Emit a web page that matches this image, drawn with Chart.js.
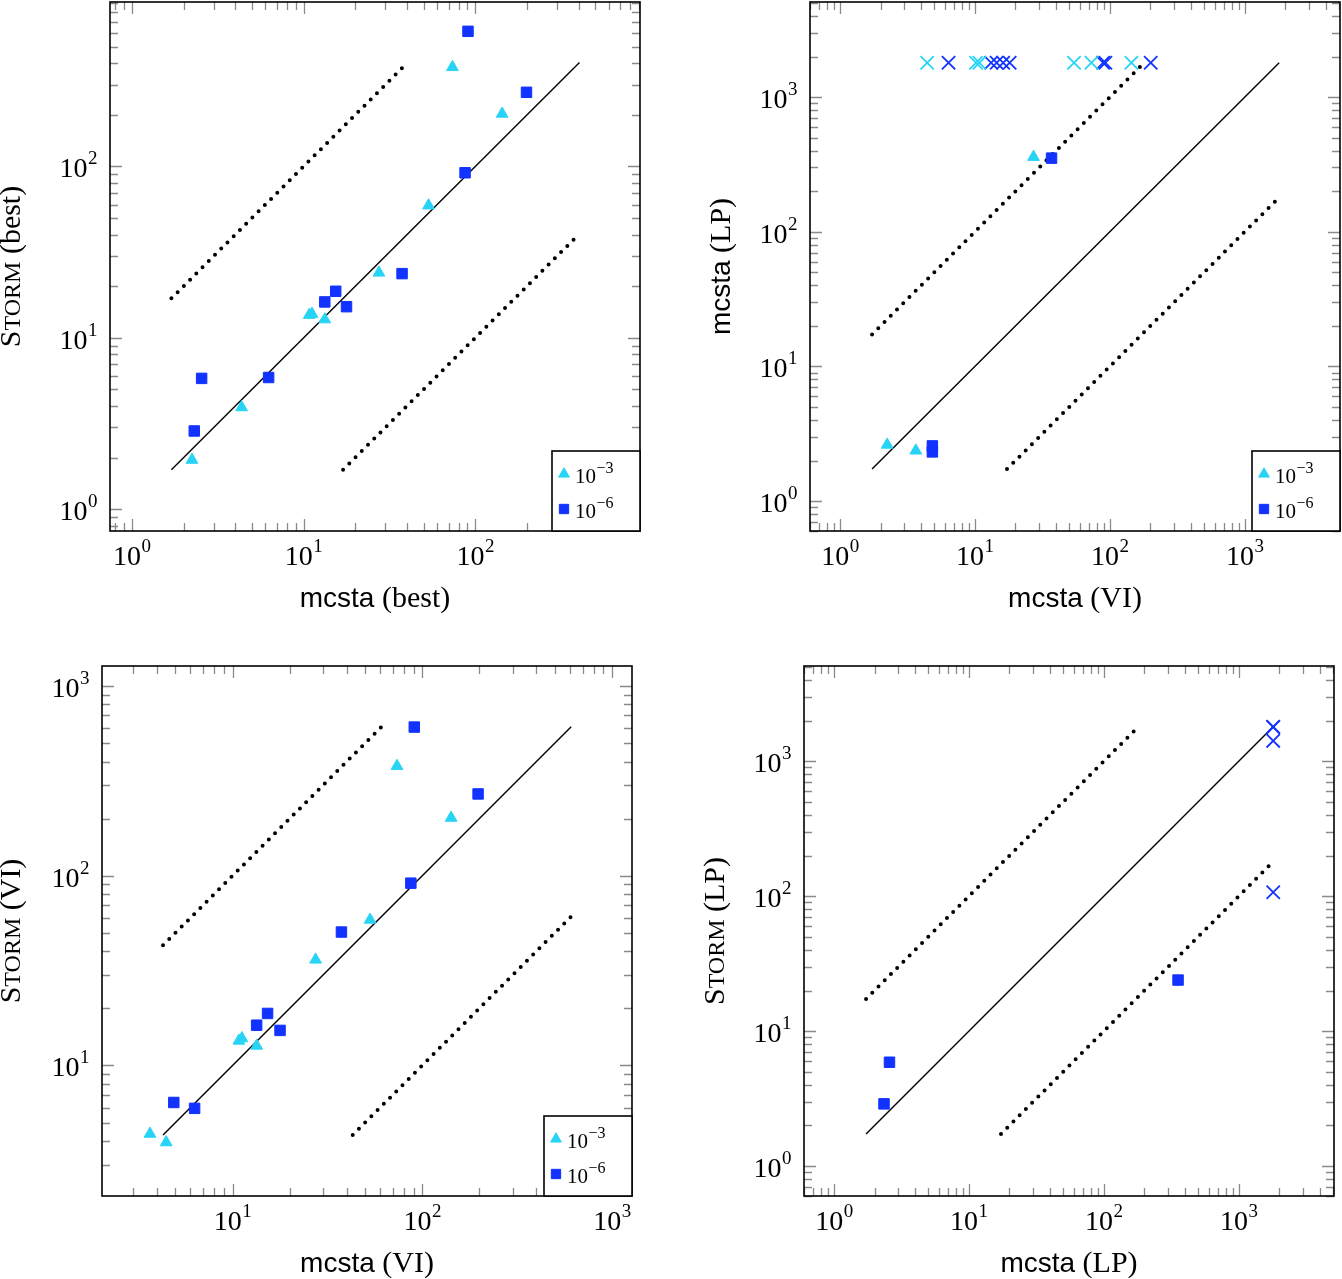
<!DOCTYPE html>
<html>
<head>
<meta charset="utf-8">
<script src="https://cdn.jsdelivr.net/npm/chart.js@4.4.1/dist/chart.umd.min.js"></script>
<style>
  html, body { margin: 0; padding: 0; background: #fff; }
  #wrap { position: relative; width: 1342px; height: 1279px; }
  #wrap canvas { position: absolute; left: 0; top: 0; }
</style>
</head>
<body>
<div id="wrap">
  <canvas id="c1" width="1342" height="1279"></canvas>
  <canvas id="c2" width="1342" height="1279"></canvas>
  <canvas id="c3" width="1342" height="1279"></canvas>
  <canvas id="c4" width="1342" height="1279"></canvas>
</div>
<script>
// ---- data ----
// top left: mcsta (best) vs Storm (best)
const bestTriX = [2.24, 4.36, 10.8, 11.2, 13.3, 27.5, 53.5, 73.7, 143.5];
const bestTriY = [1.94, 3.93, 13.6, 13.8, 12.8, 24.0, 59.2, 380, 203];
const bestSqX = [2.31, 2.55, 6.26, 13.3, 15.4, 17.8, 37.5, 87.3, 90.8, 199];
const bestSqY = [2.86, 5.80, 5.87, 16.2, 18.7, 15.2, 23.7, 91.9, 615, 271];

// top right: mcsta (VI) vs mcsta (LP), timeouts drawn as crosses
const lpTriX = [2.24, 3.65, 27.2];
const lpTriY = [2.62, 2.37, 359];
const lpSqX = [4.84, 4.84, 37.0];
const lpSqY = [2.57, 2.32, 352];
const lpTimeoutTriX = [4.43, 10.2, 10.8, 54.3, 73.1, 144.6];
const lpTimeoutSqX = [6.38, 13.2, 14.5, 16.2, 18.1, 89.2, 92.7, 201];
const lpTimeoutY = 1800;

// bottom left: mcsta (VI) vs Storm (VI)
const viTriX = [3.67, 4.47, 10.8, 11.2, 13.4, 27.4, 53.1, 73.6, 142];
const viTriY = [4.36, 3.93, 13.5, 13.9, 12.7, 36.1, 58.6, 379, 202];
const viSqX = [4.9, 6.31, 13.4, 15.3, 17.8, 37.5, 87.1, 90.8, 197];
const viSqY = [6.38, 5.94, 16.3, 18.8, 15.3, 50.5, 91.4, 608, 270];

// bottom right: mcsta (LP) vs Storm (LP)
const lpsSqX = [2.35, 2.58, 355];
const lpsSqY = [2.89, 5.88, 23.9];
const lpsTimeoutX = [1800, 1800, 1800, 1800];
const lpsTimeoutY = [1800, 1790, 1416, 107];

// reference lines y = x, y = 10x, y = x/10 (ends as drawn: [x0, y0, x1, y1])
const bestRef = [[1.7, 1.7, 405, 405], [1.7, 17, 40.5, 405], [17, 1.7, 405, 40.5]];
const lpRef = [[1.73, 1.73, 1800, 1800], [1.73, 17.3, 180, 1800], [17.3, 1.73, 1800, 180]];
const viRef = [[4.3, 4.3, 610, 610], [4.3, 43, 61, 610], [43, 4.3, 610, 61]];

// tick labels (decades) per panel
const ticksBest = [1, 10, 100];
const ticksLp = [1, 10, 100, 1000];
const ticksVi = [10, 100, 1000];

// ---- styling ----
const CYAN = 'rgb(40, 212, 246)';
const BLUE = 'rgb(18, 50, 255)';
const SERIF = '"Liberation Serif", "DejaVu Serif", serif';
const SANS = '"Liberation Sans", "DejaVu Sans", sans-serif';

function pts(xs, ys) {
  return xs.map((x, i) => ({ x: x, y: Array.isArray(ys) ? ys[i] : ys }));
}

function refSets(ref) {
  return ref.map((r, i) => ({
    data: [{ x: r[0], y: r[1] }, { x: r[2], y: r[3] }],
    showLine: true,
    pointRadius: 0,
    borderColor: '#000',
    borderWidth: i === 0 ? 1.4 : 4,
    borderDash: i === 0 ? [] : [0, 8.8],
    borderCapStyle: i === 0 ? 'butt' : 'round',
    order: 5
  }));
}

function triSet(data) {
  return { data: data, pointStyle: 'triangle', pointRadius: 6.8, borderWidth: 1,
    backgroundColor: CYAN, borderColor: CYAN, order: 2 };
}
function sqSet(data) {
  return { data: data, pointStyle: 'rect', pointRadius: 7.4, borderWidth: 1,
    backgroundColor: BLUE, borderColor: BLUE, order: 1 };
}
function crossSet(data, color) {
  return { data: data, pointStyle: 'crossRot', pointRadius: 9.4, borderWidth: 1.8,
    backgroundColor: color, borderColor: color, order: 1 };
}

function logTicks(min, max) {
  const out = [];
  for (let k = Math.floor(Math.log10(min)) - 1; k <= Math.ceil(Math.log10(max)); k++) {
    for (let m = 1; m <= 9; m++) {
      const v = m * Math.pow(10, k);
      if (v >= min * 0.999 && v <= max * 1.001) out.push({ v: v, major: m === 1 });
    }
  }
  return out;
}

// "10" with a raised exponent
function powWidth(ctx, exp, big, small) {
  ctx.font = big + 'px ' + SERIF;
  const w1 = ctx.measureText('10').width;
  ctx.font = small + 'px ' + SERIF;
  return w1 + ctx.measureText(exp).width;
}
function drawPow(ctx, exp, left, base, big, small, rise) {
  ctx.textAlign = 'left';
  ctx.textBaseline = 'alphabetic';
  ctx.font = big + 'px ' + SERIF;
  ctx.fillText('10', left, base);
  const w1 = ctx.measureText('10').width;
  ctx.font = small + 'px ' + SERIF;
  ctx.fillText(exp, left + w1 + 0.5, base - rise);
}

function drawSegments(ctx, segs) {
  let total = 0;
  segs.forEach(s => { ctx.font = s[1]; total += ctx.measureText(s[0]).width; });
  let x = -total / 2;
  ctx.textAlign = 'left';
  ctx.textBaseline = 'alphabetic';
  segs.forEach(s => { ctx.font = s[1]; ctx.fillText(s[0], x, 0); x += ctx.measureText(s[0]).width; });
}

const frame = {
  id: 'frame',
  beforeDatasetsDraw(chart, args, o) {
    const { ctx, chartArea: a, scales: { x, y } } = chart;
    ctx.save();
    ctx.strokeStyle = '#8a8a8a';
    ctx.lineWidth = 1.3;
    ctx.beginPath();
    logTicks(x.min, x.max).forEach(t => {
      const p = Math.round(x.getPixelForValue(t.v)) + 0.5;
      const L = t.major ? 12 : 8;
      ctx.moveTo(p, a.bottom); ctx.lineTo(p, a.bottom - L);
      ctx.moveTo(p, a.top); ctx.lineTo(p, a.top + L);
    });
    logTicks(y.min, y.max).forEach(t => {
      const p = Math.round(y.getPixelForValue(t.v)) + 0.5;
      const L = t.major ? 12 : 8;
      ctx.moveTo(a.left, p); ctx.lineTo(a.left + L, p);
      ctx.moveTo(a.right, p); ctx.lineTo(a.right - L, p);
    });
    ctx.stroke();
    ctx.restore();
  },
  afterDraw(chart, args, o) {
    const { ctx, chartArea: a, scales: { x, y } } = chart;
    ctx.save();
    ctx.strokeStyle = '#000';
    ctx.lineWidth = 1.6;
    ctx.strokeRect(a.left, a.top, a.right - a.left, a.bottom - a.top);

    ctx.fillStyle = '#000';
    o.ticks.forEach(v => {
      const exp = String(Math.round(Math.log10(v)));
      const w = powWidth(ctx, exp, 28, 19);
      const px = x.getPixelForValue(v);
      drawPow(ctx, exp, px - w / 2, a.bottom + 34, 28, 19, 13);
      const py = y.getPixelForValue(v);
      drawPow(ctx, exp, a.left - 13 - w, py + 11, 28, 19, 13);
    });

    // axis titles
    ctx.save();
    ctx.translate((a.left + a.right) / 2, a.bottom + 76);
    drawSegments(ctx, o.xTitle);
    ctx.restore();
    ctx.save();
    ctx.translate(a.left - o.yOff, (a.top + a.bottom) / 2);
    ctx.rotate(-Math.PI / 2);
    drawSegments(ctx, o.yTitle);
    ctx.restore();

    if (o.legend) {
      const lx = a.right - 88, ly = a.bottom - 80;
      ctx.fillStyle = '#fff';
      ctx.fillRect(lx, ly, 88, 80);
      ctx.strokeStyle = '#000';
      ctx.lineWidth = 1.6;
      ctx.strokeRect(lx, ly, 88, 80);
      ctx.fillStyle = CYAN; ctx.strokeStyle = CYAN; ctx.lineWidth = 1;
      Chart.helpers.drawPoint(ctx, { pointStyle: 'triangle', radius: 6.2, borderWidth: 1, rotation: 0 }, lx + 12, ly + 23);
      ctx.fillStyle = BLUE; ctx.strokeStyle = BLUE;
      Chart.helpers.drawPoint(ctx, { pointStyle: 'rect', radius: 6.6, borderWidth: 1, rotation: 0 }, lx + 12, ly + 58);
      ctx.fillStyle = '#000';
      drawPow(ctx, '\u22123', lx + 23, ly + 32, 21, 16, 10);
      drawPow(ctx, '\u22126', lx + 23, ly + 67, 21, 16, 10);
    }
    ctx.restore();
  }
};

const W = 1342, H = 1279;
const serif30 = '30px ' + SERIF, sc24 = '24px ' + SERIF, sans28 = '28px ' + SANS;

function panel(id, box, range, datasets, opts) {
  new Chart(document.getElementById(id), {
    type: 'scatter',
    data: { datasets: datasets },
    plugins: [frame],
    options: {
      responsive: false,
      animation: false,
      events: [],
      layout: {
        autoPadding: false,
        padding: { left: box[0], top: box[1], right: W - box[2], bottom: H - box[3] }
      },
      scales: {
        x: { type: 'logarithmic', min: range[0], max: range[1], bounds: 'data', display: false },
        y: { type: 'logarithmic', min: range[0], max: range[1], bounds: 'data', display: false }
      },
      plugins: { legend: { display: false }, tooltip: { enabled: false }, frame: opts }
    }
  });
}

panel('c1', [110, 2, 640, 531], [0.746, 912], [
  ...refSets(bestRef),
  triSet(pts(bestTriX, bestTriY)),
  sqSet(pts(bestSqX, bestSqY))
], {
  ticks: ticksBest, legend: true, yOff: 90,
  xTitle: [['mcsta', sans28], [' (best)', serif30]],
  yTitle: [['S', serif30], ['TORM', sc24], [' (best)', serif30]]
});

panel('c2', [810, 2, 1340, 531], [0.6, 5080], [
  ...refSets(lpRef),
  triSet(pts(lpTriX, lpTriY)),
  sqSet(pts(lpSqX, lpSqY)),
  crossSet(pts(lpTimeoutTriX, lpTimeoutY), CYAN),
  crossSet(pts(lpTimeoutSqX, lpTimeoutY), BLUE)
], {
  ticks: ticksLp, legend: true, yOff: 80,
  xTitle: [['mcsta', sans28], [' (VI)', serif30]],
  yTitle: [['mcsta', sans28], [' (LP)', serif30]]
});

panel('c3', [102, 666, 632, 1196], [2.05, 1276], [
  ...refSets(viRef),
  triSet(pts(viTriX, viTriY)),
  sqSet(pts(viSqX, viSqY))
], {
  ticks: ticksVi, legend: true, yOff: 82,
  xTitle: [['mcsta', sans28], [' (VI)', serif30]],
  yTitle: [['S', serif30], ['TORM', sc24], [' (VI)', serif30]]
});

panel('c4', [804, 666, 1334, 1196], [0.6, 5080], [
  ...refSets(lpRef),
  sqSet(pts(lpsSqX, lpsSqY)),
  crossSet(pts(lpsTimeoutX, lpsTimeoutY), BLUE)
], {
  ticks: ticksLp, legend: false, yOff: 80,
  xTitle: [['mcsta', sans28], [' (LP)', serif30]],
  yTitle: [['S', serif30], ['TORM', sc24], [' (LP)', serif30]]
});
</script>
</body>
</html>
